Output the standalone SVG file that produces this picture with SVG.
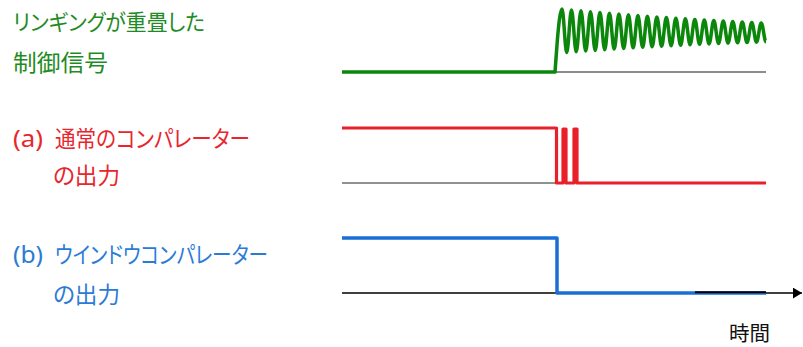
<svg xmlns="http://www.w3.org/2000/svg" width="803" height="347" viewBox="0 0 803 347">
<style>
.t{font-family:"Noto Sans","Noto Sans CJK JP",sans-serif;font-feature-settings:"palt";}
.g{fill:#1f8b24;}
.r{fill:#e8262d;}
.b{fill:#2b7bd6;}
.k{fill:#111;}
.w{fill:none;stroke-linejoin:round;stroke-linecap:butt;}
</style>
<defs>
<marker id="arr" viewBox="0 0 10 12" refX="10" refY="6" markerWidth="9" markerHeight="11" markerUnits="userSpaceOnUse" orient="auto">
<path d="M0,0 L10,6 L0,12 Z" fill="#000"/>
</marker>
</defs>
<g id="labels">
<g id="label-ringing">
<text class="t g" x="13" y="30" font-size="22" textLength="192" lengthAdjust="spacingAndGlyphs">リンギングが重畳した</text>
<text class="t g" x="13" y="71" font-size="23" textLength="95" lengthAdjust="spacingAndGlyphs">制御信号</text>
</g>
<g id="label-a">
<text class="t r" x="13" y="146.5" font-size="24" textLength="30" lengthAdjust="spacingAndGlyphs">(a)</text>
<text class="t r" x="55" y="146.5" font-size="23" textLength="195" lengthAdjust="spacingAndGlyphs">通常のコンパレーター</text>
<text class="t r" x="53" y="183.5" font-size="23" textLength="67" lengthAdjust="spacingAndGlyphs">の出力</text>
</g>
<g id="label-b">
<text class="t b" x="13" y="262.5" font-size="24" textLength="30" lengthAdjust="spacingAndGlyphs">(b)</text>
<text class="t b" x="55" y="262.5" font-size="23" textLength="213" lengthAdjust="spacingAndGlyphs">ウインドウコンパレーター</text>
<text class="t b" x="53" y="302.5" font-size="23" textLength="67" lengthAdjust="spacingAndGlyphs">の出力</text>
</g>
<g id="label-time">
<text class="t k" x="729" y="341" font-size="20" textLength="41" lengthAdjust="spacingAndGlyphs">時間</text>
</g>
</g>
<g id="connectors">
<line x1="342" y1="72" x2="766" y2="72" stroke="#8c8c8c" stroke-width="2"/>
<line x1="342" y1="183" x2="557" y2="183" stroke="#222" stroke-width="1.2"/>
<line x1="342" y1="293" x2="802" y2="293" stroke="#000" stroke-width="1.3" marker-end="url(#arr)"/>
</g>
<g id="wave-ringing">
<path class="w" stroke="#0b870b" stroke-width="3.5" d="M342,72 L555,72 L557,45 C558.5,25 560.27,9 562,9 S565.01,52.6 566.74,52.6 S569.76,9.93 571.49,9.93 S574.5,51.82 576.23,51.82 S579.25,10.83 580.98,10.83 S583.99,51.08 585.72,51.08 S588.73,11.69 590.46,11.69 S593.48,50.38 595.21,50.38 S598.22,12.52 599.95,12.52 S602.97,49.7 604.7,49.7 S607.71,13.32 609.44,13.32 S612.45,49.05 614.18,49.05 S617.2,14.1 618.93,14.1 S621.94,48.43 623.67,48.43 S626.69,14.84 628.42,14.84 S631.43,47.84 633.16,47.84 S636.17,15.57 637.9,15.57 S640.92,47.27 642.65,47.27 S645.66,16.26 647.39,16.26 S650.41,46.73 652.14,46.73 S655.15,16.93 656.88,16.93 S659.89,46.21 661.62,46.21 S664.64,17.58 666.37,17.58 S669.38,45.71 671.11,45.71 S674.13,18.2 675.86,18.2 S678.87,45.24 680.6,45.24 S683.61,18.8 685.34,18.8 S688.36,44.79 690.09,44.79 S693.1,19.39 694.83,19.39 S697.85,44.35 699.58,44.35 S702.59,19.95 704.32,19.95 S707.33,43.94 709.06,43.94 S712.08,20.49 713.81,20.49 S716.82,43.55 718.55,43.55 S721.57,21.02 723.3,21.02 S726.31,43.17 728.04,43.17 S731.05,21.52 732.78,21.52 S735.8,42.82 737.53,42.82 S740.54,22.01 742.27,22.01 S745.29,42.48 747.02,42.48 S750.03,22.48 751.76,22.48 S754.77,42.15 756.5,42.15 S759.52,22.94 761.25,22.94 S764.27,41.84 766,41.84"/>
</g>
<g id="wave-a">
<path class="w" stroke="#e8202a" stroke-width="3.2" d="M342,128 H556.5 V183 H563 V129 H566 V183 H574 V129 H577 V183 H766"/>
</g>
<g id="wave-b">
<path class="w" stroke="#1a6fd6" stroke-width="3.5" d="M342,238 H557 V293 H766"/>
<line x1="695" y1="292.3" x2="766" y2="292.3" stroke="#000" stroke-width="2"/>
</g>
</svg>
